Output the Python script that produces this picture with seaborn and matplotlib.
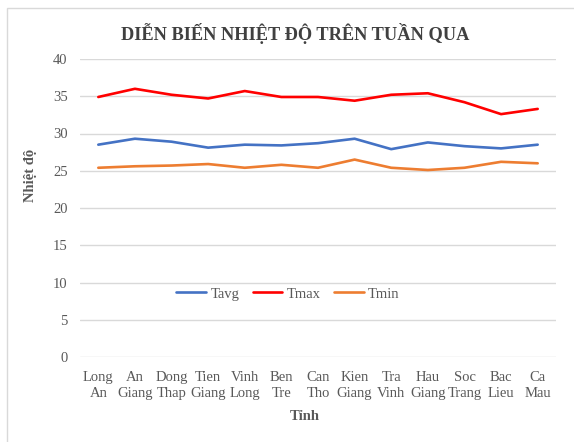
import matplotlib
matplotlib.use("Agg")
import matplotlib.pyplot as plt
import seaborn as sns
import pandas as pd
from matplotlib.patches import Rectangle

provinces = ["Long\nAn", "An\nGiang", "Dong\nThap", "Tien\nGiang", "Vinh\nLong", "Ben\nTre",
             "Can\nTho", "Kien\nGiang", "Tra\nVinh", "Hau\nGiang", "Soc\nTrang", "Bac\nLieu", "Ca\nMau"]
tavg = [28.5, 29.3, 28.9, 28.1, 28.5, 28.4, 28.7, 29.3, 27.9, 28.8, 28.3, 28.0, 28.5]
tmax = [34.9, 36.0, 35.2, 34.7, 35.7, 34.9, 34.9, 34.4, 35.2, 35.4, 34.2, 32.6, 33.3]
tmin = [25.4, 25.6, 25.7, 25.9, 25.4, 25.8, 25.4, 26.5, 25.4, 25.1, 25.4, 26.2, 26.0]
series_names = ["Tavg", "Tmax", "Tmin"]
series_colors = ["#4472C4", "#FF0000", "#ED7D31"]
yticks = [0, 5, 10, 15, 20, 25, 30, 35, 40]

sns.set_style("white")
plt.rcParams['font.family'] = ['Liberation Serif', 'DejaVu Serif']

rows = []
for name, vals in zip(series_names, [tavg, tmax, tmin]):
    for i, v in enumerate(vals):
        rows.append({"idx": i, "value": v, "series": name})
df = pd.DataFrame(rows)

fig = plt.figure(figsize=(5.74, 4.42), dpi=100)
ax = fig.add_axes([80/574, 1-357/442, 476/574, 298/442])

sns.lineplot(data=df, x="idx", y="value", hue="series", hue_order=series_names,
             palette=series_colors, linewidth=1.9, ax=ax, legend=True)

ax.set_xlim(-0.5, len(provinces) - 0.5)
ax.set_ylim(0, 40)
ax.set_yticks(yticks)
ax.set_xticks(range(len(provinces)))
ax.set_xticklabels(provinces, fontsize=10.5, color="#595959", linespacing=1.3)
ax.set_yticklabels([str(t) for t in yticks], fontsize=10.5, color="#595959")
ax.tick_params(axis="both", length=0)
ax.tick_params(axis="y", pad=9)
ax.tick_params(axis="x", pad=10)
ax.grid(axis="y", color="#D9D9D9", linewidth=1)
ax.set_axisbelow(True)
for s in ax.spines.values():
    s.set_visible(False)

ax.set_xlabel("Tỉnh", fontsize=10.5, fontweight="bold", color="#595959")
ax.set_ylabel("Nhiệt độ", fontsize=10.5, fontweight="bold", color="#595959")
ax.xaxis.set_label_coords((305-80)/476, (357-410)/298)
ax.yaxis.set_label_coords((37-80)/476, (357-175)/298)

leg = ax.legend(loc="center", bbox_to_anchor=((288-80)/476, (357-294)/298), ncol=3,
                frameon=False, fontsize=10.5, handlelength=2.05, columnspacing=0.9,
                handletextpad=0.3)
for t in leg.get_texts():
    t.set_color("#595959")

fig.text(295/574, 1-33/442, "DIỄN BIẾN NHIỆT ĐỘ TRÊN TUẦN QUA", ha="center", va="center",
         fontsize=13.2, fontweight="bold", color="#404040")

fig.patches.append(Rectangle((7/574, -0.1), 1.2, 1 - 8/442 + 0.1, transform=fig.transFigure,
                             fill=False, edgecolor="#D9D9D9", linewidth=1))

fig.savefig("out.png", dpi=100)
